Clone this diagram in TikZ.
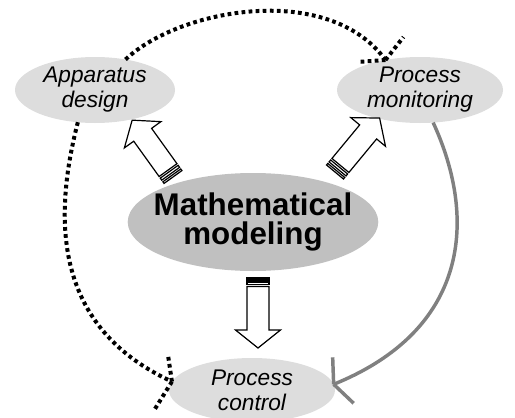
\documentclass[tikz,border=0pt]{standalone}
\usepackage{fontspec}
\setmainfont{Liberation Sans}
\usetikzlibrary{shapes.geometric}

\definecolor{lightbub}{RGB}{221,221,221}
\definecolor{mainbub}{RGB}{192,192,192}
\definecolor{linegray}{RGB}{128,128,128}

\tikzset{
  bubble/.style={ellipse, fill=lightbub, inner sep=0pt, outer sep=0pt, align=center,
    font=\fontsize{17}{18.75}\selectfont\itshape},
  mainbubble/.style={ellipse, fill=mainbub, inner xsep=-8pt, inner ysep=0pt, outer sep=0pt,
    align=center, font=\fontsize{23.5}{22}\selectfont\bfseries},
  dotline/.style={line width=3pt, dash pattern=on 2.8pt off 2.5pt},
  grayline/.style={line width=2.6pt, draw=linegray},
  arrline/.style={draw=black, fill=white, line width=0.9pt},
  blockarr/.pic={
    \draw[arrline] (0,-11) rectangle (2,11);
    \draw[arrline] (4,-11) rectangle (6.5,11);
    \draw[arrline] (8.5,-11) -- (52,-11) -- (52,-22.5) -- (70,0)
      -- (52,22.5) -- (52,11) -- (8.5,11) -- cycle;
  }
}

\begin{document}
\begin{tikzpicture}[x=0.75pt,y=-0.75pt]
  \useasboundingbox (0,0) rectangle (515,418);

  %% the four bubbles
  \node[bubble, minimum width=120pt, minimum height=49.5pt] (design) at (95,90)
    {Apparatus\\design};
  \node[bubble, minimum width=124.5pt, minimum height=49.5pt] (monitor) at (420,90)
    {Process\\monitoring};
  \node[bubble, minimum width=124.5pt, minimum height=48pt] (control) at (252,390)
    {Process\\control};
  \node[mainbubble, minimum width=186pt, minimum height=73.5pt] (model) at (253,222)
    {Mathematical\\modeling};

  %% block arrows out of the model
  \coordinate (tailD) at (173,177);
  \coordinate (tailM) at (335,172);
  \coordinate (tailC) at (258,278);
  \pic[rotate=125.7] at (tailD) {blockarr};
  \pic[rotate=50.4] at (tailM) {blockarr};
  \pic[rotate=-90] at (tailC) {blockarr};

  %% design -> monitoring, over the top
  \draw[dotline] (design.45) .. controls (180,8) and (329,-18) .. (monitor.139);
  \draw[dotline] (monitor.139) -- ++(18,-23);
  \draw[dotline] (monitor.139) -- ++(-28,2);

  %% design -> control, down the left
  \draw[dotline] (design.242) .. controls (50,230) and (60,330) .. (control.174);
  \draw[dotline] (control.174) -- ++(-4,-27);
  \draw[dotline] (control.174) -- ++(-18,29);

  %% monitoring -> control, down the right
  \draw[grayline] (monitor.292) .. controls (478,220) and (468,330) .. (control.4);
  \draw[grayline] (control.4) -- ++(-1,-27);
  \draw[grayline] (control.4) -- ++(20,19);
\end{tikzpicture}
\end{document}
